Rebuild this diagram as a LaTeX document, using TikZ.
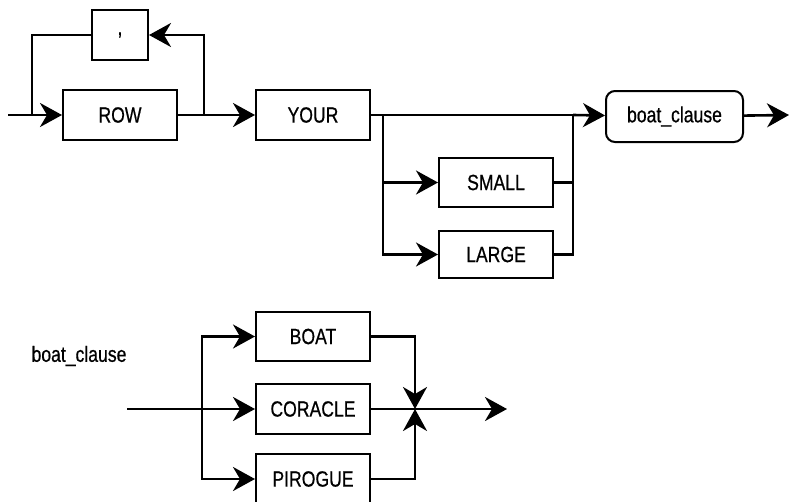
\documentclass[tikz,border=0pt]{standalone}
\usepackage{fontspec}
\setmainfont[FakeStretch=0.8,FakeBold=0.6]{Liberation Sans}
\usetikzlibrary{arrows.meta,positioning}

\tikzset{
  box/.style={draw, line width=2pt, minimum width=114pt, minimum height=50pt,
    inner sep=0pt, font=\fontsize{22}{26}\selectfont},
  rbox/.style={box, rounded corners=9pt, minimum width=137pt, minimum height=51pt},
  wire/.style={line width=2.6pt},
  arr/.style={wire, -{Stealth[length=22pt,width=24pt,inset=7pt]}},
}

\begin{document}
\begin{tikzpicture}[x=1pt,y=-1pt]
\useasboundingbox (0,0) rectangle (789,501);

% top diagram
\node[box, minimum width=56pt] (comma) at (120,35) {,};
\node[box] (row) at (120,115) {ROW};
\node[box] (your) at (313,115) {YOUR};
\node[box, minimum height=49pt] (small) at (496,182.5) {SMALL};
\node[box, minimum height=47pt] (large) at (496,254.5) {LARGE};
\node[rbox] (boatclause) at (674.5,116.5) {boat\_clause};

\coordinate (start) at (8,115);
\coordinate (loopL) at (32,115);
\coordinate (loopR) at (204,115);
\coordinate (split) at (383,115);
\coordinate (join) at (573,115);
\coordinate (end) at (789,115);

\draw[wire] (start) -- (loopL);
\draw[arr] (loopL) -- (row);
\draw[wire] (loopL) |- (comma);
\draw[wire] (row) -- (loopR);
\draw[arr] (loopR) |- (comma);
\draw[arr] (loopR) -- (your);
\draw[wire] (your) -- (join);
\draw[arr] (join) -- (boatclause);
\draw[arr] (split) |- (small);
\draw[arr] (split) |- (large);
\draw[wire] (small) -| (join);
\draw[wire] (large) -| (join);
\draw[arr] (boatclause) -- (end);

% boat_clause
\node[anchor=west, font=\fontsize{22}{26}\selectfont] (label) at (28,356) {boat\_clause};
\node[box, minimum height=49pt] (boat) at (313,336.5) {BOAT};
\node[box] (coracle) at (313,409) {CORACLE};
\node[box] (pirogue) at (313,479) {PIROGUE};

\coordinate (bstart) at (127,409);
\coordinate (bsplit) at (202,409);
\coordinate (bjoin) at (415,409);
\coordinate (bend) at (507,409);

\draw[wire] (bstart) -- (bsplit);
\draw[arr] (bsplit) -- (coracle);
\draw[arr] (bsplit) |- (boat);
\draw[arr] (bsplit) |- (pirogue);
\draw[arr] (coracle) -- (bend);
\draw[arr] (boat) -| (bjoin);
\draw[arr] (pirogue) -| (bjoin);
\end{tikzpicture}
\end{document}
